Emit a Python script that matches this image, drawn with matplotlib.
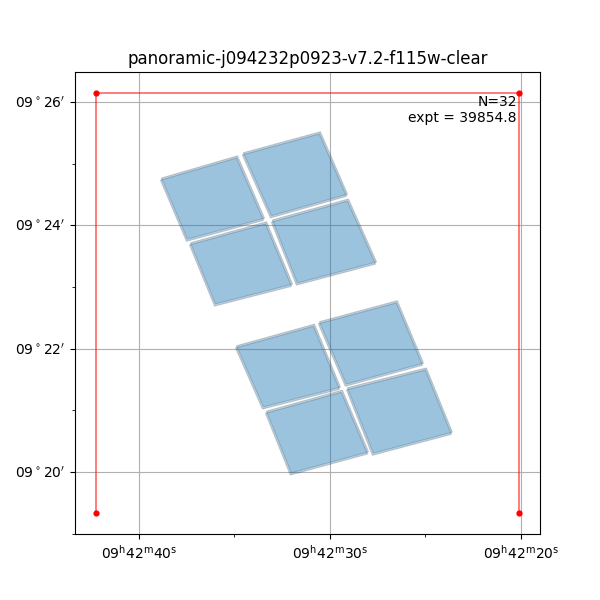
#!/usr/bin/env python3
"""Exposure footprints for one panoramic mosaic field"""

import matplotlib
matplotlib.use('Agg')
import matplotlib.pyplot as plt
from matplotlib.patches import Polygon
from matplotlib.ticker import MultipleLocator, FuncFormatter

# RA in seconds past 09h42m, Dec in arcmin past +09d
# detector corners (RA s, Dec arcmin), 8 NIRCam short-wave chips
det_ra = [
    [38.81, 34.83, 33.42, 37.45],
    [34.52, 30.49, 29.07, 33.05],
    [37.29, 33.31, 31.95, 35.98],
    [33.00, 29.02, 27.55, 31.69],
    [34.88, 30.80, 29.44, 33.47],
    [30.54, 26.46, 25.09, 29.13],
    [33.31, 29.34, 27.97, 32.01],
    [29.07, 24.94, 23.58, 27.71],
]
det_dec = [
    [24.77, 25.13, 24.12, 23.78],
    [25.18, 25.52, 24.51, 24.16],
    [23.72, 24.06, 23.05, 22.73],
    [24.09, 24.43, 23.41, 23.07],
    [22.05, 22.40, 21.38, 21.06],
    [22.44, 22.78, 21.77, 21.43],
    [20.99, 21.33, 20.33, 19.99],
    [21.37, 21.69, 20.65, 20.31],
]

# small dither offsets between the exposures (RA s, Dec arcmin)
dither_ra = [0.0, 0.015, 0.05, 0.065]
dither_dec = [0.0, -0.008, -0.034, -0.042]

# field extent (open polyline with corner markers)
box_ra = [42.24, 42.24, 20.10, 20.10]
box_dec = [19.335, 26.146, 26.146, 19.335]

title = 'panoramic-j094232p0923-v7.2-f115w-clear'
n_exp = 32
expt = 39854.8

fig, ax = plt.subplots(figsize=(6, 6), dpi=100)

for ras, decs in zip(det_ra, det_dec):
    for dr, dd in zip(dither_ra, dither_dec):
        xy = [(r + dr, d + dd) for r, d in zip(ras, decs)]
        ax.add_patch(Polygon(xy, closed=True, fc=(0.12, 0.47, 0.71, 0.135),
                             ec=(0.1, 0.15, 0.2, 0.14), lw=0.7))

ax.plot(box_ra, box_dec, color='r', alpha=0.6, lw=1.2)
ax.scatter(box_ra, box_dec, color='r', s=12, zorder=3)

ax.invert_xaxis()
ax.xaxis.set_major_locator(MultipleLocator(10))
ax.xaxis.set_minor_locator(MultipleLocator(5))
ax.yaxis.set_major_locator(MultipleLocator(2))
ax.yaxis.set_minor_locator(MultipleLocator(1))
ax.xaxis.set_major_formatter(FuncFormatter(
    lambda v, p: r'$09^{\rm h}42^{\rm m}%02d^{\rm s}$' % round(v)))
ax.yaxis.set_major_formatter(FuncFormatter(
    lambda v, p: r"$09^\circ%02d'$" % round(v)))

ax.grid(True, which='major')
ax.set_axisbelow(True)
ax.set_title(title)
ax.text(0.95, 0.95, f'N={n_exp}\nexpt = {expt:.1f}', transform=ax.transAxes,
        ha='right', va='top', multialignment='right')

plt.savefig('out.png', dpi=100)
